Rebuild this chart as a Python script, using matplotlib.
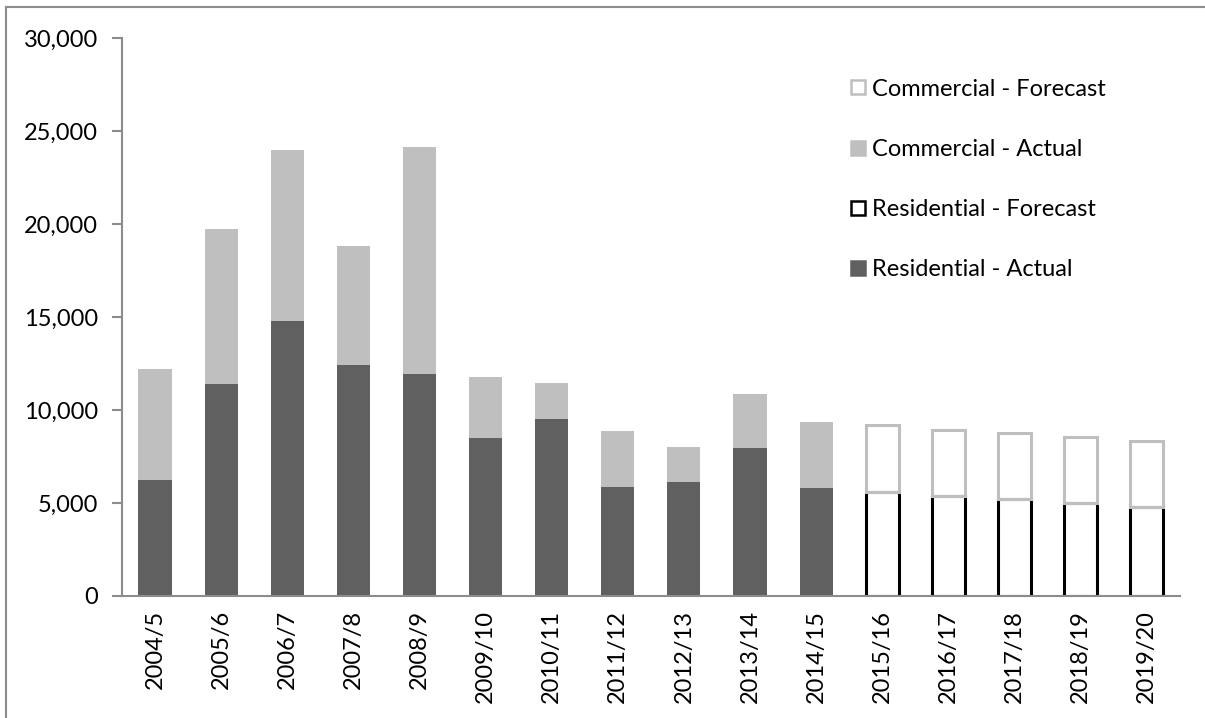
import matplotlib.pyplot as plt
from matplotlib.lines import Line2D
from matplotlib.ticker import FuncFormatter

plt.rcParams['font.family'] = ['Lato', 'DejaVu Sans']

years = ['2004/5', '2005/6', '2006/7', '2007/8', '2008/9', '2009/10', '2010/11',
         '2011/12', '2012/13', '2013/14', '2014/15', '2015/16', '2016/17',
         '2017/18', '2018/19', '2019/20']
n_actual = 11

residential = [6250, 11400, 14800, 12400, 11950, 8500, 9500, 5850, 6150, 7950, 5800,
               5600, 5400, 5200, 5000, 4800]
commercial = [5950, 8350, 9200, 6400, 12200, 3300, 1950, 3000, 1850, 2900, 3550,
              3600, 3550, 3550, 3550, 3550]

dark = '#606060'
light = '#bfbfbf'

fig = plt.figure(figsize=(12.05, 7.18), dpi=100)
ax = fig.add_axes([0.1012, 0.17, 0.8778, 0.777])

x = list(range(len(years)))
xa, xf = x[:n_actual], x[n_actual:]
w = 0.5

ax.bar(xa, residential[:n_actual], width=w, color=dark, zorder=2)
ax.bar(xa, commercial[:n_actual], width=w, bottom=residential[:n_actual],
       color=light, zorder=2)
ax.bar(xf, residential[n_actual:], width=w, facecolor='white',
       edgecolor='black', linewidth=2.2, zorder=2)
ax.bar(xf, commercial[n_actual:], width=w, bottom=residential[n_actual:],
       facecolor='none', edgecolor=light, linewidth=2.2, zorder=3)

ax.set_xlim(-0.5, len(years) - 0.5)
ax.set_ylim(0, 30000)
ax.set_yticks(range(0, 30001, 5000))
ax.yaxis.set_major_formatter(FuncFormatter(lambda v, p: f'{int(v):,}'))
ax.set_xticks(x)
ax.set_xticklabels(years, rotation=90)
ax.tick_params(axis='x', length=0, pad=10, labelsize=17)
ax.tick_params(axis='y', length=7, width=1.5, color='#8c8c8c', pad=10, labelsize=17)

for side in ['top', 'right']:
    ax.spines[side].set_visible(False)
for side in ['left', 'bottom']:
    ax.spines[side].set_color('#8c8c8c')
    ax.spines[side].set_linewidth(1.5)

def box(face, edge):
    return Line2D([], [], marker='s', linestyle='none', markersize=10.5,
                  markerfacecolor=face, markeredgecolor=edge, markeredgewidth=1.8)

handles = [box('white', light), box(light, light), box('white', 'black'), box(dark, dark)]
labels = ['Commercial - Forecast', 'Commercial - Actual',
          'Residential - Forecast', 'Residential - Actual']
ax.legend(handles, labels, loc='upper left', bbox_to_anchor=(0.68, 0.944),
          frameon=False, fontsize=17, labelspacing=1.66, handlelength=0.6,
          handletextpad=0.3, borderaxespad=0)

# chart frame, clipped at right and bottom
fig.add_artist(Line2D([6 / 1205, 1], [1 - 7 / 718, 1 - 7 / 718], color='#8c8c8c', lw=1.5))
fig.add_artist(Line2D([6 / 1205, 6 / 1205], [0, 1 - 7 / 718], color='#8c8c8c', lw=1.5))

fig.savefig('out.png', dpi=100)
